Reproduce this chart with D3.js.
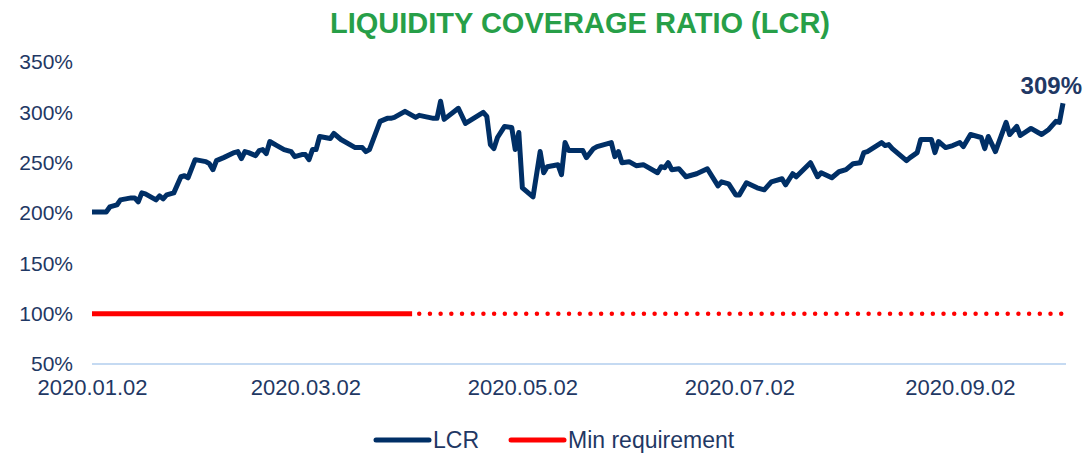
<!DOCTYPE html>
<html>
<head>
<meta charset="utf-8">
<script src="https://cdn.jsdelivr.net/npm/d3@7"></script>
<style>
  body { margin: 0; background: #fff; }
  svg text { font-family: "Liberation Sans", Arial, sans-serif; }
</style>
</head>
<body>
<div id="chart"></div>
<script>
// LCR series (2020)
const lcrDates = [
  "01-02","01-06","01-07","01-09","01-10","01-13","01-14","01-15","01-16","01-17","01-20","01-21","01-22","01-23","01-25","01-27","01-28","01-29","01-31",
  "02-03","02-04","02-05","02-06","02-08","02-11","02-12","02-13","02-14","02-15","02-17","02-18","02-19","02-20","02-21","02-23","02-25","02-27","02-28",
  "03-01","03-02","03-03","03-04","03-05","03-06","03-09","03-10","03-12","03-16","03-18","03-19","03-20","03-23","03-25","03-26","03-27","03-30","03-31",
  "04-02","04-03","04-07","04-08","04-09","04-10","04-14","04-16","04-21","04-22","04-23","04-24","04-25","04-27","04-29","04-30",
  "05-01","05-02","05-05","05-07","05-08","05-09","05-12","05-13","05-14","05-15","05-19","05-20","05-22","05-23","05-27","05-28","05-29","05-30",
  "06-01","06-03","06-05","06-09","06-10","06-11","06-12","06-13","06-15","06-17","06-20","06-23","06-26","06-27","06-29",
  "07-01","07-02","07-04","07-07","07-09","07-11","07-14","07-15","07-17","07-18","07-20","07-22","07-24","07-25","07-28","07-30",
  "08-01","08-03","08-05","08-06","08-07","08-11","08-12","08-13","08-14","08-15","08-18","08-19","08-21","08-22","08-25","08-26","08-27","08-29","08-31",
  "09-02","09-03","09-05","09-08","09-09","09-10","09-12","09-15","09-16","09-18","09-19","09-22","09-24","09-25","09-27","09-29","09-30","10-01"
];
const lcrValues = [
  201,201,206,208,213,215,215,211,220,219,213,217,214,218,220,236,237,235,253,
  251,249,243,252,255,260,261,254,261,260,257,262,263,259,271,267,263,261,256,
  258,258,253,263,263,276,274,279,273,265,265,261,263,291,294,294,295,301,299,
  295,297,294,294,311,293,304,289,300,296,268,264,275,286,285,263,
  280,225,216,261,240,246,248,238,270,262,262,255,264,266,270,256,261,250,
  251,247,248,240,246,245,250,243,244,236,239,244,227,231,229,
  218,218,230,225,223,231,234,228,239,236,243,250,236,240,235,241,
  243,249,250,260,261,270,267,268,264,261,252,255,260,273,273,260,271,265,267,
  270,266,278,275,264,276,261,290,278,286,277,284,280,278,283,291,290,309
];

// minimum requirement: solid until end of March, dotted afterwards
const minReqValue = 100;
const minSolidDates = ["01-02", "04-01"];
const minDottedDates = ["04-03", "10-01"];

const yTicks = [50, 100, 150, 200, 250, 300, 350];
const xTickDates = ["01-02", "03-02", "05-02", "07-02", "09-02"];
const lastLabel = "309%";

const parse = s => d3.timeParse("%Y-%m-%d")("2020-" + s);

const width = 1084, height = 453;
const navy = "#002f66", red = "#ff0000", textCol = "#1f3864";

const svg = d3.select("#chart").append("svg")
  .attr("width", width)
  .attr("height", height);

const x = d3.scaleTime()
  .domain([parse("01-02"), parse("10-01")])
  .range([92, 1063]);

const y = d3.scaleLinear()
  .domain([50, 350])
  .range([364, 62]);

// title
svg.append("text")
  .attr("x", 580)
  .attr("y", 33)
  .attr("text-anchor", "middle")
  .style("font-size", "29px")
  .style("font-weight", "bold")
  .style("fill", "#279f48")
  .text("LIQUIDITY COVERAGE RATIO (LCR)");

// y axis labels only
const yAxis = svg.append("g")
  .attr("transform", "translate(73,0)")
  .call(d3.axisLeft(y).tickValues(yTicks).tickSize(0).tickPadding(0).tickFormat(d => d + "%"));
yAxis.select(".domain").remove();
yAxis.selectAll("text")
  .style("font-size", "21px")
  .style("fill", textCol);

// x axis
const xAxis = svg.append("g")
  .attr("transform", `translate(0,${y(50)})`)
  .call(d3.axisBottom(x).tickValues(xTickDates.map(parse)).tickSize(0).tickPadding(15)
    .tickFormat(d3.timeFormat("%Y.%m.%d")));
xAxis.select(".domain")
  .attr("d", `M${x.range()[0]},0H1066`)
  .attr("stroke", "#c5daf2")
  .attr("stroke-width", 2);
xAxis.selectAll("text")
  .style("font-size", "22px")
  .style("fill", textCol);

const line = d3.line()
  .x(d => x(d.date))
  .y(d => y(d.value));

// min requirement
svg.append("path")
  .datum(minSolidDates.map(d => ({ date: parse(d), value: minReqValue })))
  .attr("d", line)
  .attr("fill", "none")
  .attr("stroke", red)
  .attr("stroke-width", 5);

svg.append("path")
  .datum(minDottedDates.map(d => ({ date: parse(d), value: minReqValue })))
  .attr("d", line)
  .attr("fill", "none")
  .attr("stroke", red)
  .attr("stroke-width", 4.5)
  .attr("stroke-linecap", "round")
  .attr("stroke-dasharray", "0,10.7");

// LCR line
const lcrData = lcrDates.map((d, i) => ({ date: parse(d), value: lcrValues[i] }));
svg.append("path")
  .datum(lcrData)
  .attr("d", line)
  .attr("fill", "none")
  .attr("stroke", navy)
  .attr("stroke-width", 5)
  .attr("stroke-linejoin", "round");

// last value label
const last = lcrData[lcrData.length - 1];
svg.append("text")
  .attr("x", x(last.date) + 19)
  .attr("y", y(last.value) - 9)
  .attr("text-anchor", "end")
  .style("font-size", "24px")
  .style("font-weight", "bold")
  .style("fill", textCol)
  .text(lastLabel);

// legend
const legend = svg.append("g").attr("transform", "translate(0,440)");
const items = [
  { name: "LCR", color: navy, x0: 376 },
  { name: "Min requirement", color: red, x0: 511 }
];
items.forEach(it => {
  legend.append("line")
    .attr("x1", it.x0).attr("x2", it.x0 + 53)
    .attr("y1", 0).attr("y2", 0)
    .attr("stroke", it.color)
    .attr("stroke-width", 5)
    .attr("stroke-linecap", "round");
  legend.append("text")
    .attr("x", it.x0 + 57)
    .attr("y", 8)
    .style("font-size", "23px")
    .style("fill", textCol)
    .text(it.name);
});
</script>
</body>
</html>
